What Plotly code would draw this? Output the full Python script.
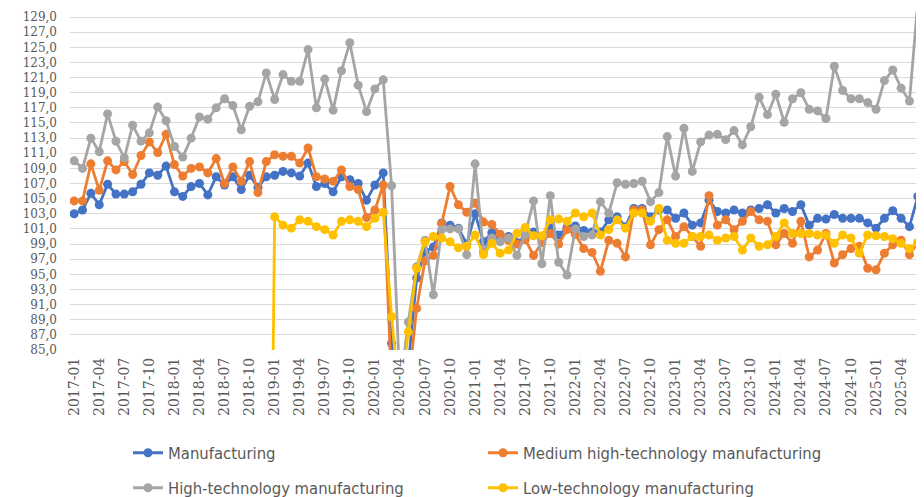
import plotly.graph_objects as go

# Monthly categories 2017-01 .. 2025-06
years = list(range(2017, 2026))
months = [f"{y}-{m:02d}" for y in years for m in range(1, 13)][:102]
tick_labels = months[::3]
y_ticks = [85 + 2 * k for k in range(23)]

manufacturing = [
    103.0, 103.5, 105.7, 104.2, 106.9, 105.6, 105.6, 105.9, 106.9, 108.4, 108.1, 109.3,
    105.9, 105.3, 106.6, 107.0, 105.5, 107.9, 106.8, 107.9, 106.2, 108.1, 106.5, 107.9,
    108.1, 108.6, 108.4, 108.0, 109.7, 106.6, 107.0, 105.9, 107.9, 107.5, 107.0, 104.8,
    106.8, 108.4, 85.9, 78.0, 83.0, 94.5, 98.0, 98.6, 101.8, 101.5, 101.1, 99.0,
    103.0, 99.3, 100.5, 99.8, 100.0, 99.2, 100.0, 100.6, 99.6, 101.3, 100.2, 101.2,
    101.4, 100.8, 100.6, 100.6, 102.2, 102.6, 101.3, 103.7, 103.7, 102.6, 103.5, 103.5,
    102.4, 103.1, 101.5, 101.8, 104.8, 103.3, 103.1, 103.5, 103.1, 103.5, 103.7, 104.2,
    103.1, 103.7, 103.3, 104.2, 101.5, 102.4, 102.3, 102.9, 102.4, 102.4, 102.4, 101.8,
    101.1, 102.4, 103.4, 102.4, 101.3, 105.3,
]

medium_high_tech = [
    104.7, 104.7, 109.6, 106.1, 110.0, 108.8, 109.9, 108.2, 110.7, 112.5, 111.1, 113.5,
    109.5, 108.0, 109.0, 109.2, 108.4, 110.3, 107.0, 109.2, 107.3, 109.9, 105.8, 109.9,
    110.8, 110.6, 110.6, 109.7, 111.7, 107.9, 107.6, 107.3, 108.8, 106.6, 106.2, 102.5,
    103.5, 106.8, 80.0, 70.0, 80.0, 90.5, 96.8, 97.5, 101.7, 106.6, 104.2, 103.2,
    104.4, 101.9, 101.6, 100.3, 99.5, 99.0, 99.6, 97.5, 99.2, 100.4, 99.0, 100.9,
    100.3, 98.4, 97.9, 95.4, 99.5, 99.1, 97.3, 103.5, 103.5, 98.9, 100.9, 102.2,
    100.0, 101.3, 100.0, 98.7, 105.4, 101.5, 102.2, 100.9, 102.0, 103.3, 102.2, 102.0,
    98.9, 100.4, 99.1, 102.0, 97.3, 98.2, 100.4, 96.5, 97.6, 98.4, 98.7, 95.8,
    95.6, 97.8, 98.9, 99.5, 97.6, 99.2,
]

high_tech = [
    110.0, 109.0, 113.0, 111.2, 116.2, 112.6, 110.4, 114.7, 112.6, 113.7, 117.1, 115.3,
    111.9, 110.5, 113.0, 115.8, 115.5, 117.0, 118.2, 117.3, 114.1, 117.2, 117.8, 121.6,
    118.1, 121.4, 120.5, 120.5, 124.7, 117.0, 120.8, 116.7, 121.9, 125.6, 120.0, 116.5,
    119.5, 120.7, 106.7, 80.0, 88.7, 96.0, 99.5, 92.3, 100.9, 101.0, 101.0, 97.6,
    109.6, 98.0, 99.8, 99.3, 99.8, 97.5, 100.3, 104.7, 96.4, 105.4, 96.6, 94.9,
    101.0, 100.0, 100.2, 104.6, 103.1, 107.1, 106.9, 107.0, 107.3, 104.6, 105.8, 113.2,
    108.0, 114.3, 108.6, 112.5, 113.4, 113.5, 112.8, 114.0, 112.1, 114.5, 118.4, 116.1,
    118.8, 115.1, 118.2, 119.0, 116.8, 116.6, 115.6, 122.5, 119.3, 118.2, 118.2, 117.7,
    116.8, 120.6, 122.0, 119.6, 117.9, 131.0,
]

low_tech = [
    0.0, 0.0, 0.0, 0.0, 0.0, 0.0, 0.0, 0.0, 0.0, 0.0, 0.0, 0.0,
    0.0, 0.0, 0.0, 0.0, 0.0, 0.0, 0.0, 0.0, 0.0, 0.0, 0.0, 0.0,
    102.6, 101.5, 101.1, 102.2, 102.0, 101.3, 100.9, 100.2, 102.0, 102.2, 102.0, 101.3,
    102.4, 103.2, 89.4, 78.0, 87.4, 95.8, 99.3, 100.0, 99.8, 99.3, 98.5, 98.7,
    100.2, 97.6, 99.1, 97.8, 98.2, 100.4, 101.2, 100.1, 100.1, 102.2, 102.3, 102.0,
    103.1, 102.6, 103.1, 100.2, 100.9, 102.2, 101.1, 103.1, 103.1, 102.0, 103.7, 99.5,
    99.1, 99.1, 100.0, 100.0, 100.2, 99.5, 99.8, 100.0, 98.2, 99.8, 98.7, 98.9,
    100.0, 101.8, 100.4, 100.4, 100.4, 100.2, 100.2, 99.1, 100.2, 99.8, 97.8, 100.2,
    100.1, 100.0, 99.7, 99.1, 98.4, 99.2,
]

series = [
    ("Manufacturing", manufacturing, "#4472C4", "legend"),
    ("Medium high-technology manufacturing", medium_high_tech, "#ED7D31", "legend"),
    ("High-technology manufacturing", high_tech, "#A5A5A5", "legend2"),
    ("Low-technology manufacturing", low_tech, "#FFC000", "legend2"),
]

SANS = "DejaVu Sans Condensed, Liberation Sans Narrow, sans-serif"
SERIF = "DejaVu Serif, Liberation Serif, serif"
TXT = "#595959"

# The page body adds an 8px offset; the figure is sized to fit the window.
W, H = 916, 489

fig = go.Figure()
for name, vals, color, lg in series:
    fig.add_trace(go.Scatter(
        x=months, y=vals, name=name, mode="lines+markers",
        line=dict(color=color, width=2.8),
        marker=dict(color=color, size=9),
        legend=lg,
    ))

legend_common = dict(orientation="h", xref="container", yref="container",
                     x=0.131, xanchor="left", yanchor="middle",
                     entrywidth=310, font=dict(size=16.5, family=SANS, color=TXT),
                     bgcolor="rgba(0,0,0,0)")

fig.update_layout(
    width=W, height=H,
    margin=dict(l=61.5, r=2, t=3.3, b=147.4, autoexpand=False),
    paper_bgcolor="white", plot_bgcolor="white",
    separators=", ",
    font=dict(family=SANS, color=TXT, size=14),
    showlegend=True,
    legend=dict(y=1 - 445 / H, **legend_common),
    legend2=dict(y=1 - 480 / H, **legend_common),
)

fig.update_xaxes(
    type="category", categoryorder="array", categoryarray=months,
    range=[-0.5, len(months) - 0.5], automargin=False,
    tickmode="array", tickvals=tick_labels, ticktext=tick_labels,
    tickangle=-90, showgrid=False, showline=False, ticks="",
    tickfont=dict(size=14, family=SERIF, color=TXT),
    ticklabelstandoff=4,
    zeroline=False,
)
fig.update_yaxes(
    range=[85, 129.8], tickmode="array", tickvals=y_ticks, automargin=False,
    tickformat=".1f", showgrid=True, gridcolor="#D9D9D9", gridwidth=1,
    zeroline=False, showline=False, ticks="",
    tickfont=dict(size=12, family=SERIF, color=TXT),
    ticklabelstandoff=12,
)

fig.write_html("out.html")
